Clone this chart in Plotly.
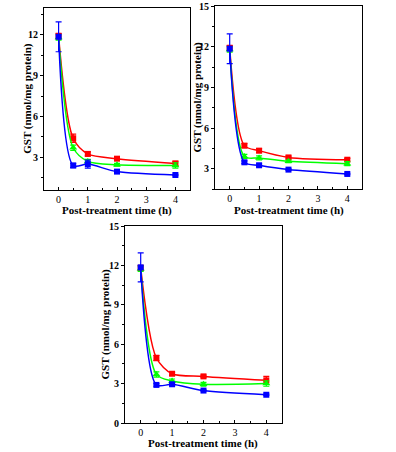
import plotly.graph_objects as go

# ---- data ----
time_h = [0, 0.5, 1, 2, 4]

red_p1 = [11.9, 4.4, 3.25, 2.9, 2.55]
green_p1 = [11.8, 3.7, 2.7, 2.45, 2.4]
blue_p1 = [11.85, 2.4, 2.5, 1.95, 1.7]
red_p1_err = [0.2, 0.3, 0.15, 0.1, 0.15]
green_p1_err = [0.2, 0.2, 0.15, 0.1, 0.2]
blue_p1_err = [1.1, 0.15, 0.3, 0.1, 0.05]

red_p2 = [11.9, 4.7, 4.33, 3.83, 3.66]
green_p2 = [11.8, 3.9, 3.79, 3.54, 3.37]
blue_p2 = [11.85, 3.47, 3.25, 2.93, 2.61]
red_p2_err = [0.2, 0.15, 0.15, 0.1, 0.1]
green_p2_err = [0.2, 0.15, 0.15, 0.1, 0.15]
blue_p2_err = [1.1, 0.1, 0.1, 0.05, 0.05]

red_p3 = [11.8, 4.95, 3.75, 3.55, 3.25]
green_p3 = [11.75, 3.7, 3.2, 2.95, 3.0]
blue_p3 = [11.85, 2.9, 2.95, 2.47, 2.15]
red_p3_err = [0.2, 0.2, 0.1, 0.1, 0.3]
green_p3_err = [0.2, 0.2, 0.15, 0.15, 0.2]
blue_p3_err = [1.1, 0.1, 0.1, 0.05, 0.05]

y_title = "GST (nmol/mg protein)"
x_title = "Post-treatment time (h)"

W, H = 396, 452
FONT = "Liberation Serif"


def px_x(v):
    return v / W


def px_y(v):
    return 1 - v / H


panels = [
    (red_p1, green_p1, blue_p1, (red_p1_err, green_p1_err, blue_p1_err),
     (44, 190), (7.5, 190), [0.6, 14], 28, 210.5),
    (red_p2, green_p2, blue_p2, (red_p2_err, green_p2_err, blue_p2_err),
     (215, 362), (6, 189), [1.5, 15], 197, 210.5),
    (red_p3, green_p3, blue_p3, (red_p3_err, green_p3_err, blue_p3_err),
     (125, 282), (226, 423), [0, 15], 105, 443.5),
]

fig = go.Figure()
series_style = [
    ("#FF0000", "square", 6),
    ("#00FF00", "triangle-up", 7),
    ("#0000FF", "square", 6),
]

for i, (r, g, b, errs, xd, yd, yr, ytx, xty) in enumerate(panels):
    n = "" if i == 0 else str(i + 1)
    for vals, err, (col, sym, sz) in zip((r, g, b), errs, series_style):
        fig.add_trace(go.Scatter(
            x=time_h, y=vals, xaxis="x" + n, yaxis="y" + n,
            mode="lines+markers",
            line=dict(color=col, width=1.5, shape="spline", smoothing=0.8),
            marker=dict(color=col, symbol=sym, size=sz),
            error_y=dict(type="data", array=err, color=col, thickness=1.2, width=3),
            showlegend=False, cliponaxis=False, hoverinfo="skip",
        ))
    axis_common = dict(
        showline=True, linecolor="black", linewidth=1, mirror=True,
        showgrid=False, zeroline=False, automargin=False,
        tickfont=dict(family=FONT, size=10, color="black"),
        ticklen=3, tickcolor="black", tickwidth=1,
        tickprefix="<b>", ticksuffix="</b>",
    )
    fig.layout["xaxis" + n] = dict(
        axis_common,
        domain=[px_x(xd[0]), px_x(xd[1])], anchor="y" + n,
        range=[-0.5, 4.5], tickvals=[0, 1, 2, 3, 4], ticks="inside",
        minor=dict(ticks="inside", dtick=0.5, tick0=0, ticklen=2, tickcolor="black"),
    )
    fig.layout["yaxis" + n] = dict(
        axis_common,
        domain=[px_y(yd[1]), px_y(yd[0])], anchor="x" + n,
        range=yr, tick0=0, dtick=3, ticks="outside",
        minor=dict(ticks="outside", dtick=1.5, tick0=0, ticklen=2, tickcolor="black"),
    )
    fig.add_annotation(
        text="<b>%s</b>" % y_title, xref="paper", yref="paper",
        x=px_x(ytx), y=px_y((yd[0] + yd[1]) / 2), textangle=-90,
        showarrow=False, font=dict(family=FONT, size=11, color="black"),
        xanchor="center", yanchor="middle",
    )
    fig.add_annotation(
        text="<b>%s</b>" % x_title, xref="paper", yref="paper",
        x=px_x((xd[0] + xd[1]) / 2), y=px_y(xty),
        showarrow=False, font=dict(family=FONT, size=11, color="black"),
        xanchor="center", yanchor="middle",
    )

fig.update_layout(
    width=W, height=H, margin=dict(l=0, r=0, t=0, b=0, autoexpand=False),
    paper_bgcolor="white", plot_bgcolor="white",
    font=dict(family=FONT, color="black"),
)

fig.write_html(
    "out.html",
    config={"displayModeBar": False, "staticPlot": True},
    post_script="document.body.style.margin='0';document.body.style.overflow='hidden';",
)
